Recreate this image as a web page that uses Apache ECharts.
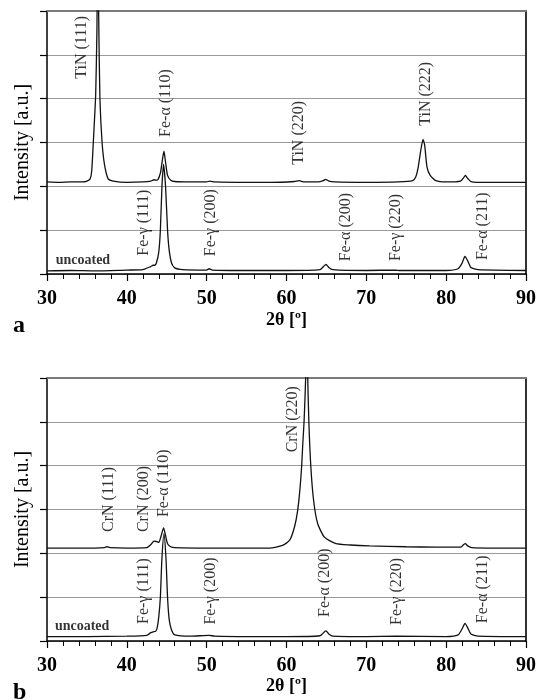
<!DOCTYPE html>
<html>
<head>
<meta charset="utf-8">
<script src="https://cdn.jsdelivr.net/npm/echarts@6/dist/echarts.min.js"></script>
<style>
  html, body { margin: 0; padding: 0; background: #fff; }
  #xrd-chart { width: 539px; height: 700px; }
</style>
</head>
<body>
<div id="xrd-chart"></div>
<script>
  // Diffraction patterns, [2theta, intensity]
  const tinCoated = [
    [30, 2.10], [31.5, 2.09], [33, 2.10], [34.5, 2.10], [35.0, 2.12], [35.4, 2.17], [35.6, 2.35],
    [35.8, 3.0], [36.0, 3.7], [36.1, 4.1], [36.25, 5.5], [36.35, 7.5], [36.5, 5.5], [36.63, 4.0],
    [36.9, 3.0], [37.2, 2.5], [37.66, 2.17], [38.3, 2.12], [40, 2.09], [42, 2.10], [43.0, 2.12],
    [43.4, 2.15], [43.8, 2.14], [44.2, 2.3], [44.45, 2.6], [44.65, 2.80], [44.85, 2.55], [45.1, 2.25],
    [45.5, 2.14], [46, 2.11], [48, 2.10], [50, 2.10], [50.4, 2.12], [51, 2.10], [55, 2.09], [58, 2.09],
    [61, 2.11], [61.6, 2.13], [62.2, 2.10], [64, 2.10], [64.6, 2.13], [64.9, 2.16], [65.3, 2.12],
    [66, 2.10], [70, 2.09], [74, 2.10], [75.8, 2.13], [76.2, 2.22], [76.5, 2.44], [76.8, 2.8],
    [77.1, 3.07], [77.3, 2.95], [77.6, 2.44], [78.0, 2.25], [78.7, 2.13], [80, 2.10], [81.8, 2.12],
    [82.2, 2.2], [82.4, 2.25], [82.7, 2.18], [83.1, 2.11], [85, 2.09], [88, 2.09], [90, 2.09]
  ];
  const uncoatedA = [
    [30, 0.07], [33, 0.08], [36, 0.07], [40, 0.09], [42, 0.10], [43.0, 0.17], [43.3, 0.20],
    [43.5, 0.20], [43.7, 0.25], [44.0, 0.5], [44.2, 1.0], [44.4, 2.0], [44.6, 2.5], [44.85, 2.0],
    [45.1, 1.0], [45.3, 0.55], [45.6, 0.25], [46, 0.14], [47, 0.10], [50, 0.09], [50.3, 0.12],
    [50.7, 0.09], [55, 0.08], [60, 0.08], [64.2, 0.10], [64.7, 0.18], [64.95, 0.22], [65.3, 0.15],
    [65.8, 0.10], [70, 0.08], [73.7, 0.09], [74.2, 0.08], [80, 0.08], [81.5, 0.12], [82.0, 0.25],
    [82.35, 0.40], [82.7, 0.30], [83.1, 0.15], [84, 0.10], [90, 0.08]
  ];
  const crnCoated = [
    [30, 2.12], [33, 2.12], [36, 2.12], [37.2, 2.13], [37.5, 2.15], [37.9, 2.13], [40, 2.12],
    [42.5, 2.13], [43.0, 2.2], [43.4, 2.28], [43.7, 2.27], [44.0, 2.25], [44.3, 2.4], [44.6, 2.58],
    [44.8, 2.45], [45.1, 2.22], [45.5, 2.15], [46, 2.13], [50, 2.12], [55, 2.12], [57.9, 2.12],
    [59.5, 2.18], [60.4, 2.30], [61.0, 2.6], [61.4, 2.98], [61.7, 3.5], [61.9, 4.0], [62.04, 4.5],
    [62.2, 5.0], [62.4, 6.0], [62.53, 7.5], [62.66, 6.0], [62.8, 5.0], [63.04, 4.0], [63.4, 3.2],
    [63.9, 2.68], [64.75, 2.37], [66.2, 2.22], [68, 2.19], [70.4, 2.17], [75, 2.15],
    [78.7, 2.14], [81.8, 2.14], [82.2, 2.2], [82.4, 2.22], [82.7, 2.17], [83.2, 2.13], [86, 2.12],
    [90, 2.12]
  ];
  const uncoatedB = [
    [30, 0.10], [35, 0.10], [40, 0.11], [42.5, 0.13], [43.0, 0.19], [43.3, 0.21], [43.6, 0.22],
    [43.8, 0.3], [44.0, 0.55], [44.2, 1.0], [44.4, 1.9], [44.65, 2.45], [44.9, 1.9], [45.1, 1.0],
    [45.3, 0.5], [45.6, 0.25], [46, 0.14], [48, 0.11], [50.3, 0.13], [51, 0.11], [55, 0.10],
    [60, 0.10], [64.2, 0.12], [64.7, 0.2], [64.95, 0.23], [65.3, 0.16], [65.8, 0.11], [70, 0.10],
    [73.8, 0.11], [80, 0.10], [81.5, 0.14], [82.0, 0.28], [82.35, 0.40], [82.7, 0.30], [83.1, 0.16],
    [84, 0.11], [90, 0.10]
  ];

  // Peak annotations: [text, 2theta, intensity]
  const peaksA = [
    ['TiN (111)', 34.3, 5.17], ['Fe-α (110)', 44.84, 3.9], ['Fe-γ (111)', 42.1, 1.17],
    ['Fe-γ (200)', 50.46, 1.17], ['TiN (220)', 61.6, 3.22], ['TiN (222)', 77.46, 4.11],
    ['Fe-α (200)', 67.46, 1.07], ['Fe-γ (220)', 73.7, 1.06], ['Fe-α (211)', 84.54, 1.09]
  ];
  const peaksB = [
    ['CrN (111)', 37.8, 3.23], ['CrN (200)', 42.16, 3.24], ['Fe-α (110)', 44.66, 3.6],
    ['Fe-γ (111)', 42.1, 1.14], ['Fe-γ (200)', 50.46, 1.14], ['CrN (220)', 60.8, 5.06],
    ['Fe-α (200)', 64.75, 1.33], ['Fe-γ (220)', 73.84, 1.13], ['Fe-α (211)', 84.54, 1.18]
  ];
  const sampleTags = [['uncoated', 34.5, 0.32], ['uncoated', 34.4, 0.34]];

  const serif = '"Liberation Serif", "DejaVu Serif", serif';

  const chart = echarts.init(document.getElementById('xrd-chart'));

  function bottomAxis(gridIndex, nameGap) {
    return {
      type: 'value', gridIndex: gridIndex, position: 'bottom',
      min: 30, max: 90, interval: 10,
      name: '2θ [º]', nameLocation: 'middle', nameGap: nameGap,
      nameTextStyle: { fontFamily: serif, fontSize: 18, fontWeight: 'bold', color: '#000' },
      axisLine: { show: true, onZero: false, lineStyle: { color: '#000', width: 1.5 } },
      axisTick: { show: true, length: 7, lineStyle: { color: '#000', width: 1.2 } },
      minorTick: { show: true, splitNumber: 5, length: 5, lineStyle: { color: '#000', width: 1 } },
      axisLabel: { margin: 15, fontFamily: serif, fontSize: 20, fontWeight: 'bold', color: '#000' },
      splitLine: { show: false }
    };
  }
  function topAxis(gridIndex) {
    return {
      type: 'value', gridIndex: gridIndex, position: 'top', min: 30, max: 90,
      axisLine: { show: true, onZero: false, lineStyle: { color: '#7a7a7a', width: 2 } },
      axisTick: { show: false }, axisLabel: { show: false }, splitLine: { show: false }
    };
  }
  function leftAxis(gridIndex) {
    return {
      type: 'value', gridIndex: gridIndex, min: 0, max: 6, interval: 1,
      name: 'Intensity [a.u.]', nameLocation: 'middle', nameGap: 14,
      nameTextStyle: { fontFamily: serif, fontSize: 20, color: '#000' },
      axisLine: { show: true, onZero: false, lineStyle: { color: '#000', width: 1.5 } },
      axisTick: { show: true, length: 7, lineStyle: { color: '#000', width: 1.2 } },
      axisLabel: { show: false },
      splitLine: { show: true, lineStyle: { color: '#9a9a9a', width: 1 } }
    };
  }
  function rightAxis(gridIndex) {
    return {
      type: 'value', gridIndex: gridIndex, position: 'right', min: 0, max: 6,
      axisLine: { show: true, onZero: false, lineStyle: { color: '#333', width: 2 } },
      axisTick: { show: false }, axisLabel: { show: false }, splitLine: { show: false }
    };
  }

  function traceSeries(data, axisIndex) {
    return {
      type: 'line', xAxisIndex: axisIndex * 2, yAxisIndex: axisIndex * 2,
      data: data, showSymbol: false, smooth: 0.2, clip: true,
      lineStyle: { color: '#111', width: 1.3 }, z: 3
    };
  }
  function labelSeries(list, axisIndex, rotate, bold) {
    return {
      type: 'scatter', xAxisIndex: axisIndex * 2, yAxisIndex: axisIndex * 2,
      symbolSize: 0, silent: true, z: 4,
      data: list.map(p => ({ value: [p[1], p[2]], name: p[0] })),
      label: {
        show: true, position: 'inside', rotate: rotate, formatter: '{b}',
        fontFamily: serif, fontSize: bold ? 14 : 16, fontWeight: bold ? 'bold' : 'normal', color: '#000'
      }
    };
  }

  const option = {
    animation: false,
    title: [
      { text: 'a', left: 8, top: 309, textStyle: { fontFamily: serif, fontSize: 24, fontWeight: 'bold', color: '#000' } },
      { text: 'b', left: 8, top: 676, textStyle: { fontFamily: serif, fontSize: 24, fontWeight: 'bold', color: '#000' } }
    ],
    grid: [
      { left: 47, top: 11, width: 480, height: 263 },
      { left: 47, top: 378, width: 480, height: 263 }
    ],
    xAxis: [bottomAxis(0, 37), topAxis(0), bottomAxis(1, 33), topAxis(1)],
    yAxis: [leftAxis(0), rightAxis(0), leftAxis(1), rightAxis(1)],
    series: [
      traceSeries(tinCoated, 0),
      traceSeries(uncoatedA, 0),
      traceSeries(crnCoated, 1),
      traceSeries(uncoatedB, 1),
      labelSeries(peaksA, 0, 90, false),
      labelSeries(peaksB, 1, 90, false),
      labelSeries([sampleTags[0]], 0, 0, true),
      labelSeries([sampleTags[1]], 1, 0, true)
    ]
  };
  chart.setOption(option);

  window.addEventListener('resize', function() {
    chart.resize();
  });
</script>
</body>
</html>
